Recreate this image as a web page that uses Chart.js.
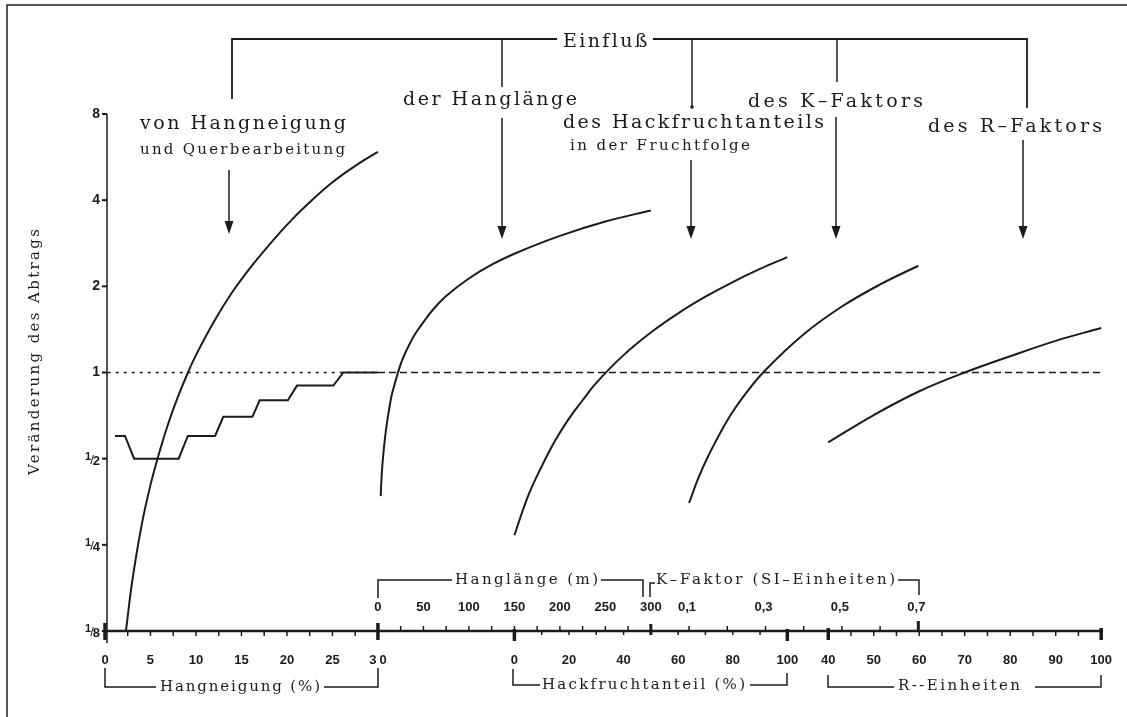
<!DOCTYPE html>
<html>
<head>
<meta charset="utf-8">
<script src="https://cdn.jsdelivr.net/npm/chart.js@4.4.1/dist/chart.umd.min.js"></script>
<style>
  html, body { margin: 0; padding: 0; background: #fff; }
</style>
</head>
<body>
<canvas id="grafik" width="1127" height="717"></canvas>
<script>
// Werte (Veränderung des Abtrags, Faktor)
const hangneigungProzent = [2.3, 3, 4, 5, 6, 7, 8, 9, 10, 12, 14, 16, 18, 20, 22, 25, 28, 30];
const hangneigungFaktor = [0.125, 0.187, 0.29, 0.405, 0.53, 0.67, 0.82, 0.98, 1.15, 1.51, 1.91, 2.33, 2.78, 3.28, 3.80, 4.62, 5.40, 5.9];

const querProzent = [1.1, 2.2, 3.2, 8.1, 9.1, 12.1, 13.0, 16.2, 17.0, 20.1, 21.1, 25.1, 26.2, 30];
const querFaktor = [0.6, 0.6, 0.5, 0.5, 0.6, 0.6, 0.7, 0.7, 0.8, 0.8, 0.9, 0.9, 1.0, 1.0];

const hanglaengeM = [3, 4, 5, 7.5, 10, 12.5, 15, 17.5, 20, 25, 30, 35, 40, 50, 60, 75, 100, 125, 150, 200, 250, 300];
const hanglaengeFaktor = [0.37, 0.43, 0.48, 0.58, 0.67, 0.75, 0.83, 0.89, 0.95, 1.07, 1.17, 1.26, 1.35, 1.5, 1.65, 1.85, 2.13, 2.38, 2.6, 3.0, 3.37, 3.68];

const hackfruchtProzent = [0, 5, 10, 15, 20, 25, 30, 40, 50, 60, 70, 80, 90, 100];
const hackfruchtFaktor = [0.27, 0.37, 0.47, 0.58, 0.69, 0.80, 0.92, 1.15, 1.38, 1.61, 1.84, 2.07, 2.30, 2.53];

const kFaktorWerte = [0.1, 0.125, 0.15, 0.2, 0.25, 0.3, 0.4, 0.5, 0.6, 0.7];
const kFaktorFaktor = [0.35, 0.43, 0.51, 0.68, 0.85, 1.02, 1.36, 1.70, 2.03, 2.36];

const rEinheiten = [40, 50, 60, 70, 80, 90, 100];
const rFaktor = [0.57, 0.71, 0.86, 1.0, 1.14, 1.29, 1.43];

// Achsenbeschriftungen
const yTickWerte = [0.125, 0.25, 0.5, 1, 2, 4, 8];
const yTickZaehler = ['1', '1', '1', '', '', '', ''];
const yTickTexte = ['8', '4', '2', '1', '2', '4', '8'];
const hangneigungTicks = [0, 5, 10, 15, 20, 25, 30];
const hanglaengeTicks = [0, 50, 100, 150, 200, 250, 300];
const hackfruchtTicks = [0, 20, 40, 60, 80, 100];
const kFaktorTicks = [0.1, 0.3, 0.5, 0.7];
const kFaktorTexte = ['0,1', '0,3', '0,5', '0,7'];
const rTicks = [40, 50, 60, 70, 80, 90, 100];

// jede Teilskala liegt auf einem Abschnitt der gemeinsamen x-Achse
const aufHangneigung = p => p;
const aufHanglaenge = l => 30 + l / 10;
const aufHackfrucht = h => 45 + h * 0.3;
const aufKFaktor = k => 60 + k * 42;
const aufR = r => 79.5 + (r - 40) * 0.5;

function punkte(xs, ys, abb) {
    return xs.map((x, i) => ({ x: abb(x), y: ys[i] }));
}

const schwarz = '#1b1b1b';
const serif = '"DejaVu Serif", "Liberation Serif", serif';
const sans = '"Liberation Sans", Arial, sans-serif';

// Text auf eine vorgegebene Breite bringen (Sperrschrift wie im Original)
function textFit(ctx, text, x1, x2, y, font) {
    ctx.font = font;
    ctx.letterSpacing = '0px';
    const w = ctx.measureText(text).width;
    const n = [...text].length;
    const sp = n > 1 ? (x2 - x1 - w) / (n - 1) : 0;
    ctx.letterSpacing = sp + 'px';
    ctx.textAlign = 'left';
    ctx.textBaseline = 'middle';
    ctx.fillText(text, x1, y);
    ctx.letterSpacing = '0px';
}

function linie(ctx, pts, breite) {
    ctx.lineWidth = breite || 1.5;
    ctx.beginPath();
    ctx.moveTo(pts[0][0], pts[0][1]);
    for (let i = 1; i < pts.length; i++) ctx.lineTo(pts[i][0], pts[i][1]);
    ctx.stroke();
}

function pfeil(ctx, x, y1, y2) {
    linie(ctx, [[x, y1], [x, y2 - 10]], 1.5);
    ctx.beginPath();
    ctx.moveTo(x - 4.5, y2 - 13);
    ctx.lineTo(x + 4.5, y2 - 13);
    ctx.lineTo(x, y2);
    ctx.closePath();
    ctx.fill();
}

function bruch(ctx, zaehler, nenner, xr, y) {
    ctx.textAlign = 'left';
    ctx.textBaseline = 'alphabetic';
    ctx.font = 'bold 11px ' + sans;
    const wz = ctx.measureText(zaehler).width;
    ctx.font = '13px ' + sans;
    const ws = ctx.measureText('/').width;
    ctx.font = 'bold 13px ' + sans;
    const wn = ctx.measureText(nenner).width;
    let x = xr - wz - ws - wn + 2;
    ctx.font = 'bold 11px ' + sans;
    ctx.fillText(zaehler, x, y + 1);
    x += wz - 1;
    ctx.font = '13px ' + sans;
    ctx.fillText('/', x, y + 5);
    x += ws - 1;
    ctx.font = 'bold 13px ' + sans;
    ctx.fillText(nenner, x, y + 6);
}

// Zeichnet Achsen, Skalen und Beschriftungen
const beschriftung = {
    id: 'beschriftung',
    afterDraw(chart) {
        const ctx = chart.ctx;
        const xs = chart.scales.x;
        const ys = chart.scales.y;
        const px = v => xs.getPixelForValue(v);
        const py = v => ys.getPixelForValue(v);
        const area = chart.chartArea;
        const yA = area.bottom;

        ctx.save();
        ctx.strokeStyle = schwarz;
        ctx.fillStyle = schwarz;

        // Rahmen der Seite
        linie(ctx, [[7, 717], [7, 5], [1127, 5]], 1.5);

        // y-Achse
        const xY = area.left + 2;
        linie(ctx, [[xY, py(8)], [xY, yA + 12]], 1.5);
        yTickWerte.forEach((v, i) => {
            const y = py(v);
            linie(ctx, [[xY - 5, y], [xY, y]], 2);
            if (yTickZaehler[i]) {
                bruch(ctx, yTickZaehler[i], yTickTexte[i], 100, y);
            } else {
                ctx.font = 'bold 14px ' + sans;
                ctx.textAlign = 'right';
                ctx.textBaseline = 'middle';
                ctx.fillText(yTickTexte[i], 100, y);
            }
        });

        // Titel der y-Achse
        ctx.save();
        ctx.translate(35, 352);
        ctx.rotate(-Math.PI / 2);
        textFit(ctx, 'Veränderung des Abtrags', -123, 123, 0, '15px ' + serif);
        ctx.restore();

        // x-Achse
        linie(ctx, [[area.left, yA], [area.right, yA]], 2.5);

        // Hangneigung: Teilstriche alle 2,5 %
        for (let p = 2.5; p < 30; p += 2.5) {
            const x = px(aufHangneigung(p));
            linie(ctx, [[x, yA], [x, yA + 5]], 1.5);
        }
        [0, 30].forEach(p => {
            const x = px(aufHangneigung(p));
            linie(ctx, [[x, yA - 8], [x, yA + 9]], 3.5);
        });
        // Hanglänge: alle 25 m nach oben
        for (let l = 25; l < 300; l += 25) {
            const x = px(aufHanglaenge(l));
            linie(ctx, [[x, yA - 5], [x, yA]], 1.5);
        }
        linie(ctx, [[px(aufHanglaenge(300)), yA - 7], [px(aufHanglaenge(300)), yA + 4]], 3);
        // Hackfruchtanteil: alle 10 % nach unten
        for (let h = 10; h < 100; h += 10) {
            const x = px(aufHackfrucht(h));
            linie(ctx, [[x, yA], [x, yA + 4]], 1.5);
        }
        [0, 100].forEach(h => {
            const x = px(aufHackfrucht(h));
            linie(ctx, [[x, yA - 2], [x, yA + 10]], 3.5);
        });
        // K-Faktor: alle 0,1 nach oben
        for (let k = 0.1; k < 0.65; k += 0.1) {
            const x = px(aufKFaktor(k));
            linie(ctx, [[x, yA - 5], [x, yA]], 1.5);
        }
        linie(ctx, [[px(aufKFaktor(0.7)), yA - 10], [px(aufKFaktor(0.7)), yA]], 3);
        // R-Einheiten: alle 5 nach unten
        for (let r = 45; r < 100; r += 5) {
            const x = px(aufR(r));
            linie(ctx, [[x, yA], [x, yA + 5]], 1.5);
        }
        [40, 100].forEach(r => {
            const x = px(aufR(r));
            linie(ctx, [[x, yA - 3], [x, yA + 9]], 3.5);
        });

        // Zahlen an der x-Achse
        ctx.font = 'bold 13px ' + sans;
        ctx.textAlign = 'center';
        ctx.textBaseline = 'middle';
        const yUnten = yA + 29;
        const yOben = yA - 24;
        hangneigungTicks.forEach(p => {
            if (p === 30) {
                ctx.letterSpacing = '3px';
                ctx.fillText('30', px(aufHangneigung(p)) + 1.5, yUnten);
                ctx.letterSpacing = '0px';
            } else {
                ctx.fillText(String(p), px(aufHangneigung(p)), yUnten);
            }
        });
        hackfruchtTicks.forEach(h => ctx.fillText(String(h), px(aufHackfrucht(h)), yUnten));
        rTicks.forEach(r => ctx.fillText(String(r), px(aufR(r)), yUnten));
        hanglaengeTicks.forEach(l => ctx.fillText(String(l), px(aufHanglaenge(l)), yOben));
        kFaktorTicks.forEach((k, i) => ctx.fillText(kFaktorTexte[i], px(aufKFaktor(k)) - 2, yOben));

        // Klammern mit Skalennamen
        const yKu = yA + 56;
        const yKo = yA - 51;
        const fKl = '15px ' + serif;
        // Hangneigung (%)
        linie(ctx, [[105, yA + 37], [105, yKu], [156, yKu]], 1.5);
        linie(ctx, [[324, yKu], [378, yKu], [378, yA + 37]], 1.5);
        textFit(ctx, 'Hangneigung (%)', 160, 320, yKu, fKl);
        // Hackfruchtanteil (%)
        linie(ctx, [[513, yA + 38], [513, yKu - 2], [540, yKu - 2]], 1.5);
        linie(ctx, [[750, yKu - 2], [787, yKu - 2], [787, yA + 42]], 1.5);
        textFit(ctx, 'Hackfruchtanteil (%)', 542, 745, yKu - 2, fKl);
        // R-Einheiten
        linie(ctx, [[828, yA + 44], [828, yKu], [894, yKu]], 1.5);
        linie(ctx, [[1035, yKu], [1101, yKu], [1101, yA + 44]], 1.5);
        textFit(ctx, 'R--Einheiten', 898, 1020, yKu - 1, fKl);
        // Hanglänge (m)
        linie(ctx, [[378, yA - 33], [378, yKo], [452, yKo]], 1.5);
        linie(ctx, [[601, yKo], [643, yKo], [643, yA - 34]], 1.5);
        textFit(ctx, 'Hanglänge (m)', 455, 598, yKo, fKl);
        // K-Faktor (SI-Einheiten)
        linie(ctx, [[650, yA - 34], [650, yKo + 3], [655, yKo + 3]], 1.5);
        linie(ctx, [[898, yKo], [919, yKo], [919, yA - 36]], 1.5);
        textFit(ctx, 'K–Faktor (SI–Einheiten)', 656, 895, yKo, fKl);

        // Klammer "Einfluß" oben
        linie(ctx, [[232, 99], [232, 39], [557, 39]], 1.8);
        linie(ctx, [[653, 39], [1027, 39], [1027, 108]], 1.8);
        linie(ctx, [[502, 39], [502, 87]], 1.5);
        linie(ctx, [[692, 39], [692, 106]], 1.5);
        ctx.beginPath(); ctx.arc(692, 107, 1.8, 0, Math.PI * 2); ctx.fill();
        linie(ctx, [[837, 39], [837, 82]], 1.5);
        textFit(ctx, 'Einfluß', 563, 647, 42, '19px ' + serif);

        // Beschriftungen der Einflussgrößen
        const fGross = '19px ' + serif;
        const fKlein = '15px ' + serif;
        textFit(ctx, 'von Hangneigung', 140, 346, 124, fGross);
        textFit(ctx, 'und Querbearbeitung', 140, 345, 150, fKlein);
        textFit(ctx, 'der Hanglänge', 403, 577, 100, fGross);
        textFit(ctx, 'des Hackfruchtanteils', 563, 824, 123, fGross);
        textFit(ctx, 'in der Fruchtfolge', 570, 750, 146, fKlein);
        textFit(ctx, 'des K–Faktors', 748, 923, 102, fGross);
        textFit(ctx, 'des R–Faktors', 928, 1102, 127, fGross);

        // Pfeile
        pfeil(ctx, 229, 170, 234);
        pfeil(ctx, 502, 118, 239);
        pfeil(ctx, 691, 160, 239);
        pfeil(ctx, 836, 117, 239);
        pfeil(ctx, 1023, 140, 239);

        ctx.restore();
    }
};

const ctx = document.getElementById('grafik').getContext('2d');

const kurve = (daten) => ({
    data: daten,
    borderColor: schwarz,
    borderWidth: 2,
    pointRadius: 0,
    tension: 0.4,
    fill: false
});

const grafik = new Chart(ctx, {
    type: 'line',
    data: {
        datasets: [
            kurve(punkte(hangneigungProzent, hangneigungFaktor, aufHangneigung)),
            Object.assign(kurve(punkte(querProzent, querFaktor, aufHangneigung)), { tension: 0 }),
            kurve(punkte(hanglaengeM, hanglaengeFaktor, aufHanglaenge)),
            kurve(punkte(hackfruchtProzent, hackfruchtFaktor, aufHackfrucht)),
            kurve(punkte(kFaktorWerte, kFaktorFaktor, aufKFaktor)),
            kurve(punkte(rEinheiten, rFaktor, aufR)),
            // Bezugslinie bei Faktor 1
            {
                data: [{ x: 0.3, y: 1 }, { x: 30, y: 1 }],
                borderColor: schwarz, borderWidth: 1.3, borderDash: [3, 5], pointRadius: 0
            },
            {
                data: [{ x: 30, y: 1 }, { x: 109.7, y: 1 }],
                borderColor: schwarz, borderWidth: 1.6, borderDash: [7, 4], pointRadius: 0
            }
        ]
    },
    options: {
        responsive: false,
        animation: false,
        devicePixelRatio: 1,
        layout: { padding: { left: 105, right: 24, top: 114, bottom: 86 } },
        plugins: { legend: { display: false }, tooltip: { enabled: false } },
        scales: {
            x: { type: 'linear', min: 0, max: 109.7, display: false },
            y: { type: 'logarithmic', min: 0.125, max: 8, display: false }
        }
    },
    plugins: [beschriftung]
});
</script>
</body>
</html>
